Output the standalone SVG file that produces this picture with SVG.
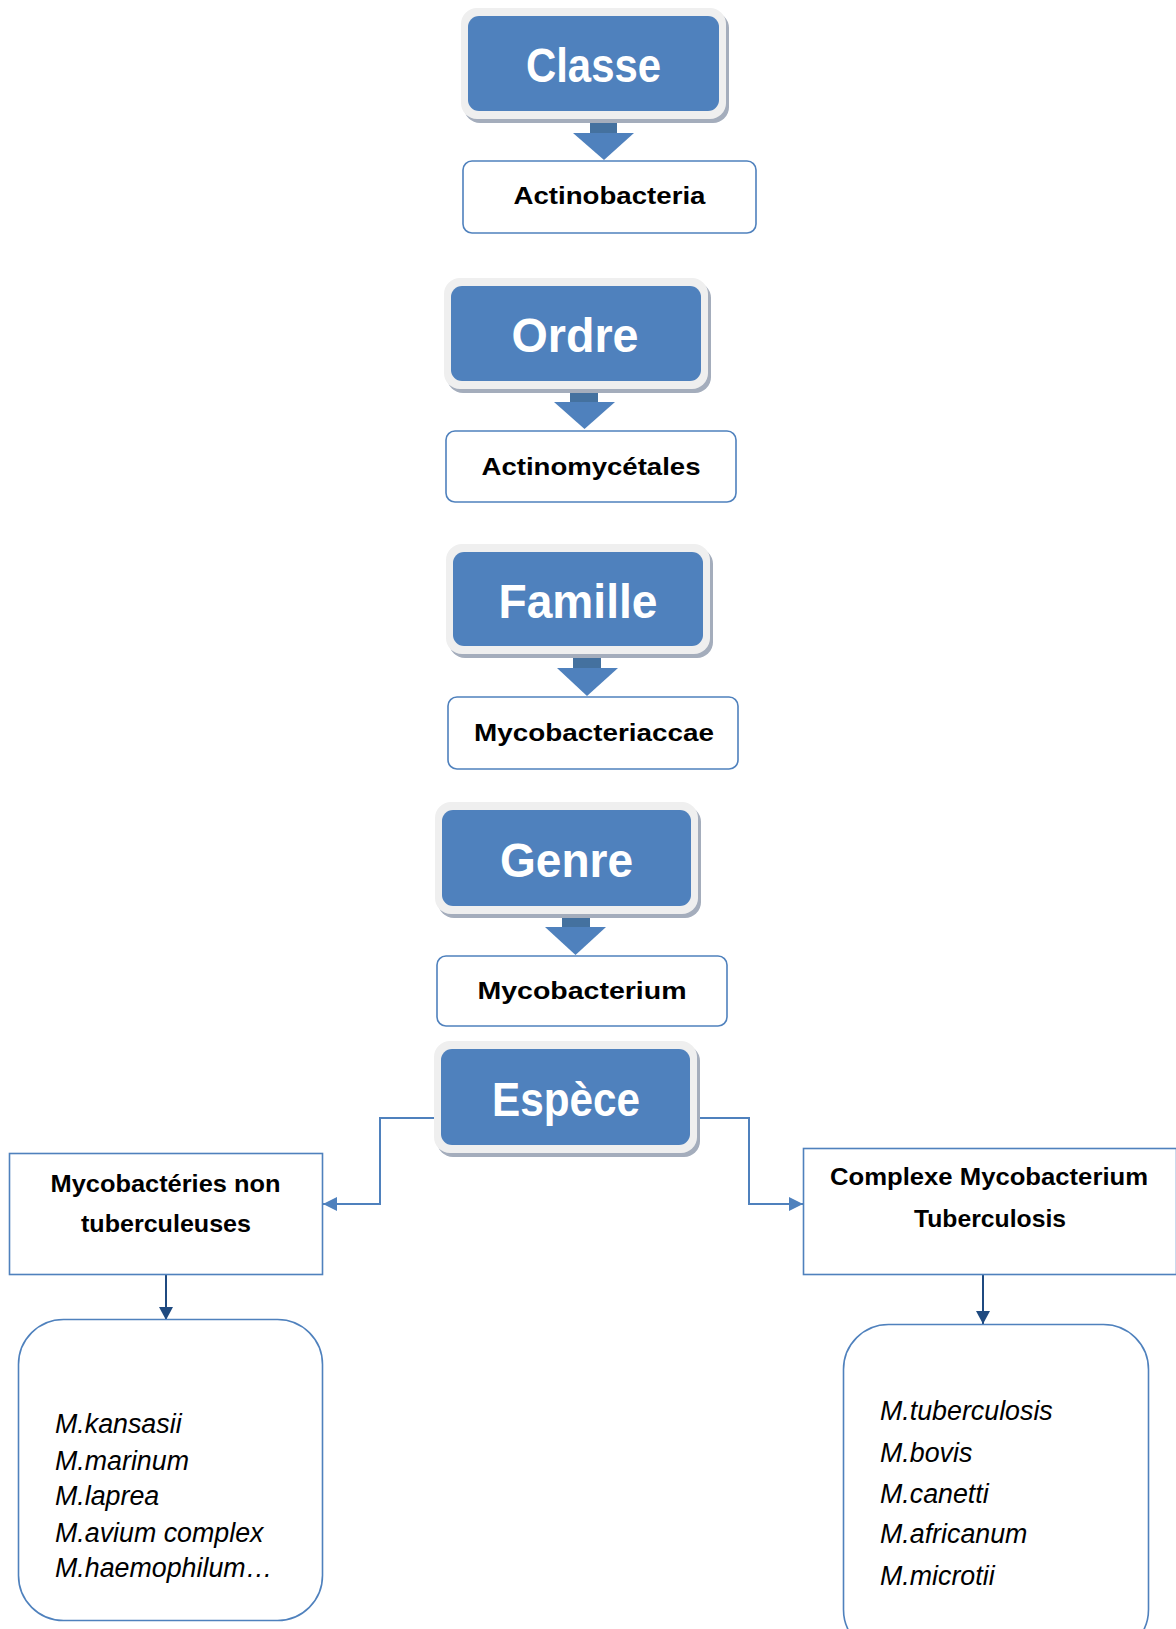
<svg xmlns="http://www.w3.org/2000/svg" width="1176" height="1629" viewBox="0 0 1176 1629">
<style>
.frame{fill:#efefef}
.shadow{fill:#a4adbc}
.blue{fill:#4f81bd}
.bt{font-family:"Liberation Sans",Arial,sans-serif;font-weight:bold;font-size:48px;fill:#fff;text-anchor:middle}
.wbox{fill:#fff;stroke:#4f81bd;stroke-width:1.6}
.wt{font-family:"Liberation Sans",Arial,sans-serif;font-weight:bold;font-size:24px;fill:#000;text-anchor:middle}
.it{font-family:"Liberation Sans",Arial,sans-serif;font-style:italic;font-size:26.8px;fill:#000}
.conn{fill:none;stroke:#4f81bd;stroke-width:2}
.dconn{fill:none;stroke:#1f4a80;stroke-width:2}
.shaft{fill:#44719f}
</style>
<defs>
<marker id="ab" markerUnits="userSpaceOnUse" markerWidth="16" markerHeight="16" refX="14" refY="7" orient="auto">
<path d="M0,0 L14,7 L0,14 Z" fill="#4f81bd"/>
</marker>
<marker id="ad" markerUnits="userSpaceOnUse" markerWidth="16" markerHeight="16" refX="13" refY="7" orient="auto">
<path d="M0,0 L13,7 L0,14 Z" fill="#1f4a80"/>
</marker>
</defs>

<g id="connectors">
<rect class="shaft" x="590" y="118" width="27" height="16"/>
<path class="blue" d="M573,133 L634,133 L604,160 Z"/>
<rect class="shaft" x="570" y="391" width="28" height="12"/>
<path class="blue" d="M554,402 L615,402 L584.5,429 Z"/>
<rect class="shaft" x="573" y="656" width="28" height="13"/>
<path class="blue" d="M557,668 L618,668 L587,696 Z"/>
<rect class="shaft" x="562" y="915" width="28" height="13"/>
<path class="blue" d="M545,927 L606,927 L575.5,955 Z"/>
<polyline class="conn" points="434,1118 380,1118 380,1204 323,1204" marker-end="url(#ab)"/>
<polyline class="conn" points="699,1118 749,1118 749,1204 803,1204" marker-end="url(#ab)"/>
<line class="dconn" x1="166" y1="1275" x2="166" y2="1320" marker-end="url(#ad)"/>
<line class="dconn" x1="983" y1="1275" x2="983" y2="1324" marker-end="url(#ad)"/>
</g>

<g id="classe">
<rect class="shadow" x="464" y="12" width="265" height="111" rx="16"/>
<rect class="frame" x="461" y="8" width="265" height="111" rx="16"/>
<rect class="blue" x="468" y="16" width="251" height="95" rx="11"/>
<text class="bt" x="593.5" y="82" textLength="135" lengthAdjust="spacingAndGlyphs">Classe</text>
</g>
<g id="actinobacteria">
<rect class="wbox" x="463" y="161" width="293" height="72" rx="9"/>
<text class="wt" x="609.5" y="204" textLength="192" lengthAdjust="spacingAndGlyphs">Actinobacteria</text>
</g>

<g id="ordre">
<rect class="shadow" x="447" y="282" width="264" height="111" rx="16"/>
<rect class="frame" x="444" y="278" width="264" height="111" rx="16"/>
<rect class="blue" x="451" y="286" width="250" height="95" rx="11"/>
<text class="bt" x="575" y="352" textLength="127" lengthAdjust="spacingAndGlyphs">Ordre</text>
</g>
<g id="actinomycetales">
<rect class="wbox" x="446" y="431" width="290" height="71" rx="9"/>
<text class="wt" x="591" y="475" textLength="219" lengthAdjust="spacingAndGlyphs">Actinomycétales</text>
</g>

<g id="famille">
<rect class="shadow" x="449" y="548" width="264" height="110" rx="16"/>
<rect class="frame" x="446" y="544" width="264" height="110" rx="16"/>
<rect class="blue" x="453" y="552" width="250" height="94" rx="11"/>
<text class="bt" x="578" y="618" textLength="159" lengthAdjust="spacingAndGlyphs">Famille</text>
</g>
<g id="mycobacteriaccae">
<rect class="wbox" x="448" y="697" width="290" height="72" rx="9"/>
<text class="wt" x="594" y="741" textLength="240" lengthAdjust="spacingAndGlyphs">Mycobacteriaccae</text>
</g>

<g id="genre">
<rect class="shadow" x="438" y="806" width="263" height="112" rx="16"/>
<rect class="frame" x="435" y="802" width="263" height="112" rx="16"/>
<rect class="blue" x="442" y="810" width="249" height="96" rx="11"/>
<text class="bt" x="566.5" y="877" textLength="133" lengthAdjust="spacingAndGlyphs">Genre</text>
</g>
<g id="mycobacterium">
<rect class="wbox" x="437" y="956" width="290" height="70" rx="9"/>
<text class="wt" x="582" y="999" textLength="209" lengthAdjust="spacingAndGlyphs">Mycobacterium</text>
</g>

<g id="espece">
<rect class="shadow" x="437" y="1045" width="263" height="112" rx="16"/>
<rect class="frame" x="434" y="1041" width="263" height="112" rx="16"/>
<rect class="blue" x="441" y="1049" width="249" height="96" rx="11"/>
<text class="bt" x="566" y="1116" textLength="148" lengthAdjust="spacingAndGlyphs">Espèce</text>
</g>

<g id="non-tuberculeuses">
<rect class="wbox" x="9.5" y="1153.5" width="313" height="121"/>
<text class="wt" x="165.5" y="1192" textLength="230" lengthAdjust="spacingAndGlyphs">Mycobactéries non</text>
<text class="wt" x="166" y="1232" textLength="170" lengthAdjust="spacingAndGlyphs">tuberculeuses</text>
</g>

<g id="complexe-tuberculosis">
<rect class="wbox" x="803.5" y="1148.5" width="373" height="126"/>
<text class="wt" x="989" y="1185" textLength="318" lengthAdjust="spacingAndGlyphs">Complexe Mycobacterium</text>
<text class="wt" x="990" y="1227" textLength="152" lengthAdjust="spacingAndGlyphs">Tuberculosis</text>
</g>

<g id="liste-ntm">
<rect class="wbox" x="18.5" y="1319.5" width="304" height="301" rx="45"/>
<text class="it" x="55" y="1433">M.kansasii</text>
<text class="it" x="55" y="1470">M.marinum</text>
<text class="it" x="55" y="1505">M.laprea</text>
<text class="it" x="55" y="1542">M.avium complex</text>
<text class="it" x="55" y="1577">M.haemophilum…</text>
</g>

<g id="liste-mtbc">
<rect class="wbox" x="843.5" y="1324.5" width="305" height="330" rx="45"/>
<text class="it" x="880" y="1420">M.tuberculosis</text>
<text class="it" x="880" y="1462">M.bovis</text>
<text class="it" x="880" y="1503">M.canetti</text>
<text class="it" x="880" y="1543">M.africanum</text>
<text class="it" x="880" y="1585">M.microtii</text>
</g>
</svg>
